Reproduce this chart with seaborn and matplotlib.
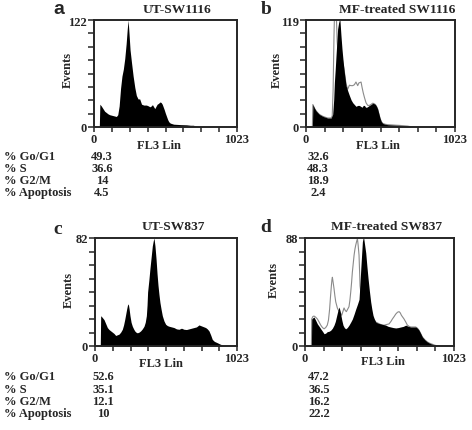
import matplotlib
matplotlib.use('Agg')
import matplotlib.pyplot as plt
import numpy as np
import seaborn as sns

# ---- data (channel, events) ----
titles = ['UT-SW1116', 'MF-treated SW1116', 'UT-SW837', 'MF-treated SW837']
letters = ['a', 'b', 'c', 'd']
ymax = [122, 119, 82, 88]

ch_a = [38, 42, 52, 64, 76, 88, 100, 112, 124, 136, 148, 160, 170, 180, 190, 200, 210, 220, 230, 238,
        244, 250, 258, 268, 280, 292, 303, 315, 327, 340, 356, 375, 390, 399, 410, 418, 427, 435, 445,
        452, 462, 471, 480, 488, 495, 502, 510, 519, 527, 535, 545, 554, 570, 590, 620, 662, 690, 710,
        734, 760, 800]
ev_a = [0, 26, 24, 21, 18, 16.5, 15, 14, 13.5, 13, 12.5, 12, 14, 24, 44, 58, 66, 78, 95, 112,
        122, 108, 88, 74, 58, 45, 36, 32, 32, 26, 25, 25, 24, 23, 24, 25.5, 23, 21, 24,
        26, 27, 28.5, 28, 26, 23, 20, 16, 12, 8.5, 6, 4.5, 4, 3.2, 3, 2.7, 2.5, 2, 2,
        1, 0.4, 0]

ch_b = [44, 47, 58, 69, 80, 92, 103, 114, 130, 149, 160, 172, 183, 190, 195, 201, 206, 212, 217, 224,
        229, 233, 240, 247, 255, 263, 275, 287, 298, 310, 321, 332, 343, 355, 366, 375, 385, 393, 401,
        409, 417, 426, 435, 446, 458, 467, 476, 484, 492, 500, 508, 517, 527, 545, 561, 590, 618, 640,
        664, 698, 720, 740]
ev_b = [0, 25, 21, 18, 16, 14, 13, 12, 11, 10, 10, 10, 14, 30, 50, 65, 79, 95, 109, 116,
        119, 119, 102, 87, 73, 61, 46, 40, 35, 30, 27, 25, 23, 24, 24, 23, 22, 24, 24,
        22, 22, 23, 24, 25, 26.5, 26, 25, 23, 20, 15, 10, 6, 4, 3, 2.6, 2.3, 2, 1.8,
        1.5, 1, 0.3, 0]

ch_b_mf = [44, 47, 58, 69, 80, 92, 103, 114, 130, 149, 160, 172, 180, 186, 192, 197, 203, 208, 214, 222,
           232, 247, 263, 275, 286, 298, 309, 321, 332, 343, 355, 363, 371, 378, 385, 393, 401, 412, 424,
           435, 446, 458, 467, 476, 484, 492, 500, 508, 517, 527, 545, 561, 590, 618, 640, 664, 698, 720, 740]
ev_b_mf = [0, 25, 21, 18, 16, 14, 13, 12, 11, 10, 10, 10, 12, 40, 100, 135, 140, 125, 95, 80,
           75, 78, 62, 48, 42, 46.5, 46, 46, 47, 50, 46, 49, 49.5, 50, 44, 38, 33, 27, 24,
           24, 25, 26.5, 26, 25, 23, 20, 15, 10, 6, 4, 3, 2.6, 2.3, 2, 1.8, 1.5, 1, 0.3, 0]

ch_c = [38, 41, 50, 65, 77, 89, 101, 113, 125, 137, 149, 161, 173, 185, 197, 206, 214, 221, 228, 234,
        240, 246, 252, 260, 269, 278, 286, 295, 305, 317, 329, 341, 353, 362, 370, 375, 379, 388, 396,
        405, 413, 420, 425, 432, 440, 447, 454, 461, 468, 476, 485, 497, 509, 521, 533, 551, 569, 587,
        605, 623, 641, 659, 677, 695, 713, 731, 749, 761, 773, 785, 797, 809, 821, 833, 845, 860, 881,
        900, 917, 935, 950]
ev_c = [0, 23, 22, 20, 17, 14, 12.5, 11.5, 10.5, 9.5, 8, 8.5, 9, 10.5, 12.7, 16, 20, 24, 28, 31,
        32, 28, 23, 18, 15, 13, 11.5, 10.5, 10, 10.5, 11.5, 13, 15, 18, 23, 31, 41, 50, 59,
        68, 76, 80, 82, 76, 66, 55, 46, 39, 33, 28, 23, 19, 16.5, 15.5, 15, 14.5, 14, 13,
        12.7, 13.5, 12.7, 12.5, 13, 13.5, 14, 14.5, 16, 15.5, 15, 14.5, 14, 13, 11.5, 8.5, 5, 3.5, 2.5,
        1.5, 0.8, 0.3, 0]

ch_d = [44, 46, 54, 62, 73, 85, 97, 108, 120, 131, 142, 153, 165, 176, 188, 199, 208, 218, 226, 234,
        240, 245, 253, 261, 270, 279, 290, 302, 314, 325, 337, 348, 360, 371, 377, 383, 389, 394, 399,
        403, 410, 417, 425, 433, 442, 451, 459, 467, 476, 486, 503, 520, 537, 554, 571, 588, 606, 623,
        640, 657, 675, 692, 709, 726, 743, 760, 772, 783, 795, 806, 823, 840, 857, 875, 890, 905, 920]
ev_d = [0, 22, 23, 23.6, 21, 18, 16, 14, 12, 10, 10.5, 11.7, 12, 12.8, 14.5, 17, 20, 25, 29, 31.8,
        29, 26, 21, 17, 15, 14, 15, 17, 19.5, 22, 26, 30, 34, 38, 50, 63, 75, 85, 88,
        88, 82, 76, 65, 55, 45, 36, 30, 25, 22, 19.5, 18.5, 18, 17.5, 17, 16, 15.5, 15, 14.7,
        15, 15.5, 16, 17, 16, 15.5, 15.5, 15.5, 14.5, 12.8, 10, 7.3, 5, 3.3, 2.2, 1.4, 0.7, 0.2, 0]

ch_d_mf = [44, 46, 54, 62, 73, 85, 97, 108, 120, 131, 142, 153, 161, 169, 175, 181, 185, 188, 193, 199,
           205, 211, 222, 230, 238, 245, 252, 260, 268, 276, 284, 293, 302, 308, 314, 320, 325, 331, 337,
           343, 348, 354, 360, 365, 371, 375, 378, 385, 395, 410, 425, 440, 455, 470, 486, 503, 520, 531,
           545, 560, 577, 590, 600, 612, 623, 635, 646, 654, 662, 671, 680, 692, 703, 715, 726, 743, 760,
           772, 783, 795, 806, 823, 840, 857, 875, 890, 905, 920]
ev_d_mf = [0, 22, 24, 24.4, 23.5, 22, 19.5, 17, 15, 14, 15, 17, 21, 30, 40, 49, 54, 56, 52, 47,
           41, 36, 31, 29, 28, 26.5, 25, 28, 31, 29, 28, 30, 32, 37, 44, 52, 60, 67, 74,
           79, 82, 85, 87.5, 82, 74, 60, 49, 42, 40, 38, 34, 30, 26, 22, 19.5, 18.5, 17.5, 17,
           17, 17.5, 18, 20, 22, 24, 26, 27.5, 28, 27, 25, 23.5, 22, 19.5, 17, 16, 15.5, 15.5, 15.5,
           14.5, 12.8, 10, 7.3, 5, 3.3, 2.2, 1.4, 0.7, 0.2, 0]

stat_names = ['% Go/G1', '% S', '% G2/M', '% Apoptosis']
stats_a = ['49.3', '36.6', '14', '4.5']
stats_b = ['32.6', '48.3', '18.9', '2.4']
stats_c = ['52.6', '35.1', '12.1', '10']
stats_d = ['47.2', '36.5', '16.2', '22.2']

fills = [(ch_a, ev_a), (ch_b, ev_b), (ch_c, ev_c), (ch_d, ev_d)]
overlays = [None, (ch_b_mf, ev_b_mf), None, (ch_d_mf, ev_d_mf)]

sns.set_style('ticks')
plt.rcParams['font.family'] = ['Liberation Serif', 'DejaVu Serif']
plt.rcParams['font.weight'] = 'bold'

W, H = 472, 431
fig = plt.figure(figsize=(W / 100, H / 100), dpi=100)


def px(x, y):
    return x / W, 1 - y / H


# axes boxes in pixels: left, top, right, bottom
boxes = [(94, 21, 237, 128), (306, 21, 455, 128), (95, 239, 237, 347), (305, 239, 454, 347)]
title_pos = [(177, 10), (397, 10), (173, 227), (387, 227)]
letter_pos = [(59, 10), (266, 9), (58, 230), (266, 228)]
events_pos = [(68, 70), (277, 70), (69, 290), (274, 280)]
xlab_pos = [(159, 146), (378, 146), (161, 364), (383, 362)]

for i in range(4):
    l, t, r, b = boxes[i]
    ax = fig.add_axes([l / W, 1 - b / H, (r - l) / W, (b - t) / H])
    if overlays[i] is not None:
        sns.lineplot(x=overlays[i][0], y=overlays[i][1], ax=ax, color='#8a8a8a',
                     lw=0.8, zorder=1, legend=False)
    ax.fill_between(fills[i][0], 0, fills[i][1], color='black', lw=0, zorder=2)
    ax.set_xlim(0, 1023)
    ax.set_ylim(0, ymax[i])
    ax.set_xticks(np.linspace(0, 1023, 9))
    ax.set_xticklabels(['0'] + [''] * 7 + ['1023'])
    ax.set_yticks(np.linspace(0, ymax[i], 9))
    ax.set_yticklabels(['0'] + [''] * 7 + [str(ymax[i])])
    ax.tick_params(axis='x', direction='out', length=3.5, width=1.1, pad=1, labelsize=9)
    ax.tick_params(axis='y', direction='out', length=4, width=1.1, pad=1, labelsize=9)
    ax.set_xlabel('')
    ax.set_ylabel('')
    for s in ax.spines.values():
        s.set_visible(True)
        s.set_linewidth(1.4)
        s.set_zorder(3)

    fig.text(*px(*title_pos[i]), titles[i], ha='center', va='center', fontsize=9.7, fontweight='bold')
    fig.text(*px(*letter_pos[i]), letters[i], ha='center', va='center', fontsize=14, fontweight='bold',
             family=['Liberation Sans'] if i == 0 else ['Liberation Serif'])
    fig.text(*px(*events_pos[i]), 'Events', ha='center', va='center', rotation=90, fontsize=9,
             fontweight='bold')
    fig.text(*px(*xlab_pos[i]), 'FL3 Lin', ha='center', va='center', fontsize=9, fontweight='bold')

rows_top = [157, 169, 181, 193]
rows_bot = [377, 390, 402, 414]
for j in range(4):
    fig.text(*px(4, rows_top[j]), stat_names[j], ha='left', va='center', fontsize=9, fontweight='bold')
    fig.text(*px(102, rows_top[j]), stats_a[j], ha='center', va='center', fontsize=9, fontweight='bold')
    fig.text(*px(318, rows_top[j]), stats_b[j], ha='center', va='center', fontsize=9, fontweight='bold')
    fig.text(*px(4, rows_bot[j]), stat_names[j], ha='left', va='center', fontsize=9, fontweight='bold')
    fig.text(*px(103, rows_bot[j]), stats_c[j], ha='center', va='center', fontsize=9, fontweight='bold')
    fig.text(*px(319, rows_bot[j]), stats_d[j], ha='center', va='center', fontsize=9, fontweight='bold')

fig.savefig('out.png', dpi=100, facecolor='white')
